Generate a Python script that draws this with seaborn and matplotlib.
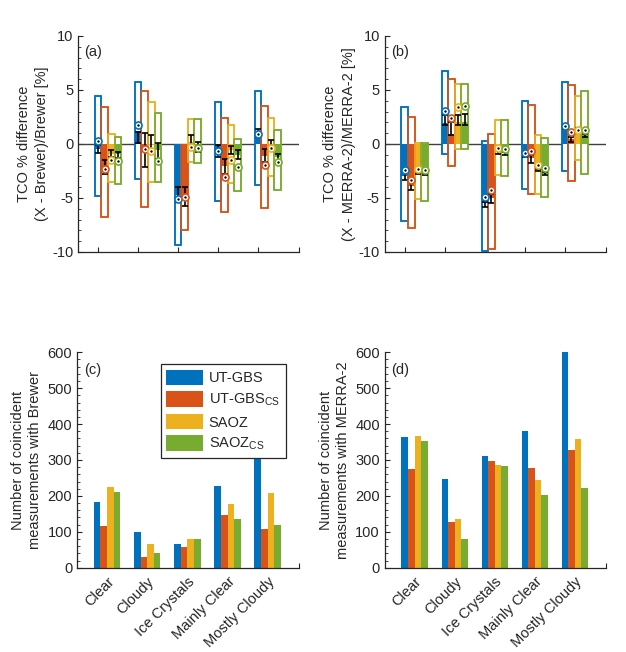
import numpy as np
import pandas as pd
import matplotlib
matplotlib.use('Agg')
import matplotlib.pyplot as plt
import seaborn as sns
from matplotlib.ticker import MultipleLocator
from matplotlib.patches import Patch

# ---------------- data ----------------
categories = ['Clear', 'Cloudy', 'Ice Crystals', 'Mainly Clear', 'Mostly Cloudy']
series = ['UT-GBS', 'UT-GBS$_{CS}$', 'SAOZ', 'SAOZ$_{CS}$']
colors = ['#0072BD', '#D95319', '#EDB120', '#77AC30']

# panel (a): rows = series, columns = categories
a_box_hi = [[4.45, 5.75, -0.05, 3.85, 4.95],
            [3.45, 4.90, -0.10, 2.40, 3.50],
            [0.95, 3.90, 2.35, 1.80, 2.45],
            [0.65, 2.90, 2.35, 0.45, 1.30]]
a_box_lo = [[-4.85, -3.25, -9.35, -5.30, -3.80],
            [-6.80, -5.80, -8.00, -6.30, -5.90],
            [-3.50, -3.50, -1.65, -3.65, -2.95],
            [-3.75, -3.50, -1.80, -4.35, -4.25]]
a_mean = [[-0.45, 1.20, -4.70, -0.70, 1.10],
          [-2.10, -0.40, -4.85, -2.00, -1.10],
          [-0.90, -0.10, 0.20, -0.60, -0.10],
          [-0.90, -0.60, -0.25, -1.00, -1.20]]
a_err_lo = [[-0.85, 0.10, -5.40, -1.20, 0.65],
            [-2.75, -2.10, -5.70, -2.75, -1.65],
            [-1.20, -0.45, -0.45, -0.90, -0.45],
            [-1.30, -1.35, -0.70, -1.35, -1.65]]
a_err_hi = [[-0.10, 1.15, -4.00, -0.10, 1.35],
            [-1.50, 1.05, -4.00, -1.35, -0.50],
            [-0.60, 0.85, 0.85, -0.20, 0.35],
            [-0.70, 0.10, 0.20, -0.60, -0.90]]
a_median = [[0.28, 1.73, -5.05, -0.68, 0.90],
            [-2.28, -0.50, -4.95, -3.05, -1.98],
            [-1.50, -0.68, -0.28, -1.50, -0.34],
            [-1.60, -1.60, -0.37, -2.13, -1.67]]

# panel (b)
b_box_hi = [[3.45, 6.80, 0.30, 4.00, 5.75],
            [2.50, 6.05, 0.95, 3.65, 5.45],
            [0.12, 5.60, 2.20, 0.85, 4.45],
            [0.12, 5.60, 2.20, 0.55, 4.90]]
b_box_lo = [[-7.15, -0.95, -9.90, -4.15, -2.50],
            [-7.75, -2.00, -9.70, -4.60, -3.45],
            [-5.10, -0.50, -2.90, -4.60, -1.45],
            [-5.30, -0.50, -3.00, -4.95, -2.75]]
b_mean = [[-3.00, 1.90, -5.50, -1.10, 1.50],
          [-3.90, 0.80, -5.00, -1.30, 0.45],
          [-2.70, 2.00, -0.75, -2.40, 1.40],
          [-2.80, 2.00, -0.85, -2.75, 0.80]]
b_err_lo = [[-3.30, 1.75, -5.85, -1.25, 1.35],
            [-4.30, 0.80, -5.50, -1.75, 0.20],
            [-2.80, 1.75, -0.90, -2.50, 1.30],
            [-2.90, 1.75, -1.00, -2.85, 0.65]]
b_err_hi = [[-2.60, 2.65, -5.35, -0.95, 1.65],
            [-3.50, 2.05, -4.60, -1.05, 0.65],
            [-2.60, 2.65, -0.60, -2.30, 1.50],
            [-2.70, 2.80, -0.75, -2.60, 0.95]]
b_median = [[-2.38, 3.02, -4.90, -0.80, 1.67],
            [-3.36, 2.40, -4.23, -0.68, 1.10],
            [-2.28, 3.43, -0.34, -1.98, 1.27],
            [-2.44, 3.52, -0.43, -2.19, 1.33]]

# panel (c), (d): number of coincident measurements
c_counts = [[182, 100, 66, 228, 390],
            [116, 31, 59, 147, 108],
            [224, 65, 81, 177, 207],
            [212, 42, 79, 136, 119]]
d_counts = [[363, 247, 311, 381, 600],
            [275, 126, 297, 279, 327],
            [367, 136, 287, 243, 358],
            [353, 81, 283, 202, 223]]

# ---------------- style ----------------
sns.set_style('ticks')
TXT = '#262626'
plt.rcParams['font.family'] = ['Liberation Sans', 'DejaVu Sans']
plt.rcParams['mathtext.fontset'] = 'custom'
plt.rcParams['mathtext.rm'] = 'Liberation Sans'
plt.rcParams['mathtext.default'] = 'regular'
plt.rcParams['axes.edgecolor'] = TXT
plt.rcParams['text.color'] = TXT
plt.rcParams['axes.labelcolor'] = TXT
plt.rcParams['xtick.color'] = TXT
plt.rcParams['ytick.color'] = TXT

GROUP_W = 0.66
NS = len(series)
BW = GROUP_W / NS
offsets = [(k - (NS - 1) / 2) * BW for k in range(NS)]
XLIM = (-0.75, 4.78)


def long_df(values):
    rows = []
    for s, name in enumerate(series):
        for c, cat in enumerate(categories):
            rows.append({'cat': cat, 'inst': name, 'val': values[s][c]})
    return pd.DataFrame(rows)


def style_axis(ax, yminor):
    ax.set_axisbelow(True)
    sns.despine(ax=ax)
    ax.spines['left'].set_linewidth(0.9)
    ax.spines['bottom'].set_linewidth(0.9)
    ax.tick_params(axis='both', which='major', direction='in', length=3.5,
                   width=0.8, labelsize=10.5)
    ax.tick_params(axis='both', which='minor', direction='in', length=2,
                   width=0.6)
    ax.yaxis.set_minor_locator(MultipleLocator(yminor))
    ax.set_xticks([XLIM[1]], minor=True)
    ax.tick_params(axis='x', which='minor', length=3.5, width=0.8)
    ax.set_xlim(*XLIM)
    ax.set_xlabel('')


def diff_panel(ax, mean, box_lo, box_hi, err_lo, err_hi, median, ylabel, letter):
    df = long_df(mean)
    sns.barplot(data=df, x='cat', y='val', hue='inst', order=categories,
                hue_order=series, palette=colors, width=GROUP_W, gap=0,
                saturation=1, errorbar=None, legend=False, ax=ax,
                edgecolor='none', linewidth=0)
    for p in ax.patches:
        p.set_zorder(3)
    ax.axhline(0, color='#404040', lw=1.0, zorder=1.5)
    xs = np.arange(len(categories))
    for s in range(NS):
        x = xs + offsets[s]
        lo = np.array(box_lo[s]); hi = np.array(box_hi[s])
        ax.bar(x, hi - lo, bottom=lo, width=BW, facecolor='white',
               edgecolor=colors[s], linewidth=1.1, zorder=2)
        ax.bar(x, hi - lo, bottom=lo, width=BW, facecolor='none',
               edgecolor=colors[s], linewidth=1.1, zorder=3.2)
        elo = np.array(err_lo[s]); ehi = np.array(err_hi[s])
        ax.errorbar(x, (elo + ehi) / 2, yerr=(ehi - elo) / 2, fmt='none',
                    ecolor='black', elinewidth=1.2, capsize=2.5,
                    capthick=1.2, zorder=4)
        ax.scatter(x, median[s], s=26, facecolor='white',
                   edgecolor=colors[s], linewidth=1.2, zorder=5)
        ax.scatter(x, median[s], s=3, color='black', linewidth=0, zorder=6)
    ax.set_ylim(-10, 10)
    ax.set_yticks([-10, -5, 0, 5, 10])
    ax.set_yticklabels(['-10', '-5', '0', '5', '10'])
    style_axis(ax, 1)
    ax.set_xticks(xs + offsets[0])
    ax.set_xticklabels([''] * len(categories))
    ax.set_ylabel(ylabel, fontsize=10.5, linespacing=1.4, labelpad=2)
    ax.text(0.028, 0.925, letter, transform=ax.transAxes, fontsize=10.5,
            va='center', ha='left')


def count_panel(ax, counts, ylabel, letter):
    df = long_df(counts)
    sns.barplot(data=df, x='cat', y='val', hue='inst', order=categories,
                hue_order=series, palette=colors, width=GROUP_W, gap=0,
                saturation=1, errorbar=None, legend=False, ax=ax,
                edgecolor='none', linewidth=0)
    ax.set_ylim(0, 600)
    ax.set_yticks(range(0, 601, 100))
    style_axis(ax, 20)
    ax.set_xticks(range(len(categories)))
    ax.set_xticklabels(categories, rotation=45, ha='right',
                       rotation_mode='anchor', fontsize=10.5)
    ax.tick_params(axis='x', which='major', pad=5)
    ax.set_ylabel(ylabel, fontsize=10.5, linespacing=1.25)
    ax.text(0.03, 0.92, letter, transform=ax.transAxes, fontsize=10.5,
            va='center', ha='left')


fig = plt.figure(figsize=(6.26, 6.52), dpi=100)
ax_a = fig.add_axes([0.1246, 0.6135, 0.3530, 0.3313])
ax_b = fig.add_axes([0.6145, 0.6135, 0.3535, 0.3313])
ax_c = fig.add_axes([0.1230, 0.1293, 0.3546, 0.3304])
ax_d = fig.add_axes([0.6145, 0.1293, 0.3535, 0.3304])

diff_panel(ax_a, a_mean, a_box_lo, a_box_hi, a_err_lo, a_err_hi, a_median,
           'TCO % difference\n(X - Brewer)/Brewer [%]', '(a)')
diff_panel(ax_b, b_mean, b_box_lo, b_box_hi, b_err_lo, b_err_hi, b_median,
           'TCO % difference\n(X - MERRA-2)/MERRA-2 [%]', '(b)')
count_panel(ax_c, c_counts, 'Number of coincident\nmeasurements with Brewer', '(c)')
count_panel(ax_d, d_counts, 'Number of coincident\nmeasurements with MERRA-2', '(d)')

handles = [Patch(facecolor=c, edgecolor='none') for c in colors]
leg = ax_c.legend(handles, series, loc='upper right',
                  bbox_to_anchor=(0.94, 0.946), borderaxespad=0,
                  fontsize=10.5, handlelength=2.5, handleheight=1.25,
                  labelspacing=0.4, handletextpad=0.4, borderpad=0.4,
                  fancybox=False, framealpha=1, edgecolor='#262626')
leg.get_frame().set_linewidth(0.9)
leg.set_zorder(10)

fig.savefig('out.png', dpi=100, facecolor='white')
